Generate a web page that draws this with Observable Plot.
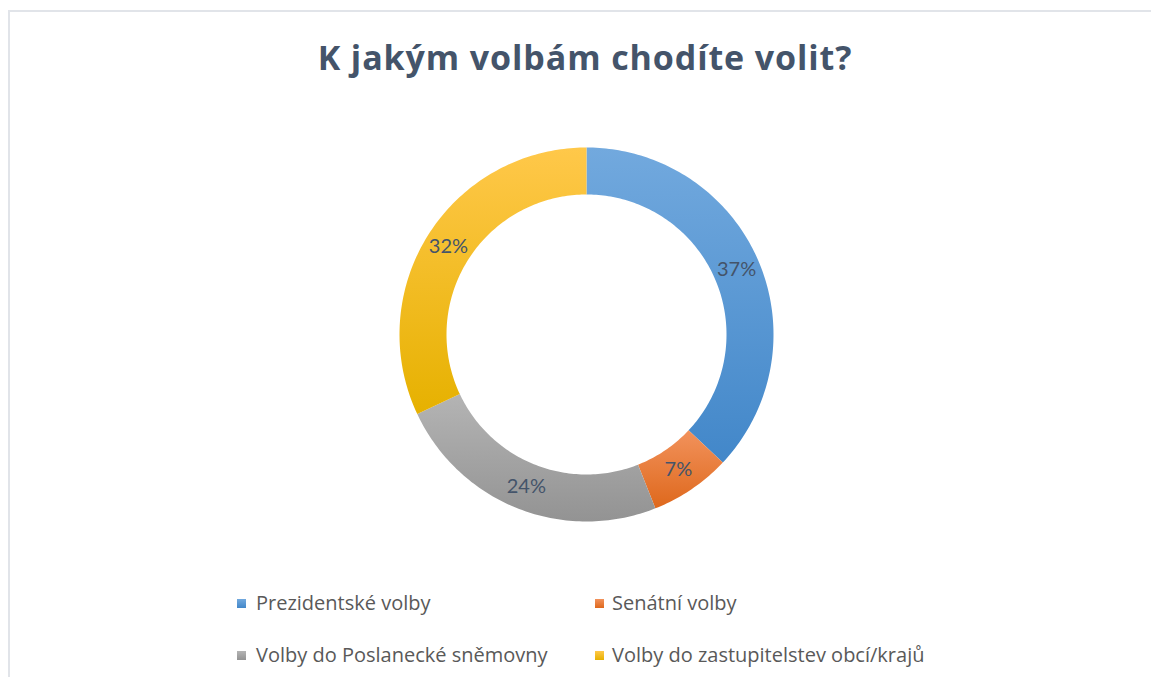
<!DOCTYPE html>
<html>
<head>
<meta charset="utf-8">
<script src="https://cdn.jsdelivr.net/npm/d3@7"></script>
<script src="https://cdn.jsdelivr.net/npm/@observablehq/plot@0.6"></script>
<style>
  html, body { margin: 0; padding: 0; background: #ffffff; width: 1151px; height: 677px; overflow: hidden; }
  #frame { position: absolute; left: 8px; top: 10px; width: 1200px; height: 700px;
           border-top: 2px solid #e1e4e9; border-left: 2px solid #e1e4e9; }
  #title { position: absolute; left: 0; width: 1170px; top: 40px; text-align: center;
           font-family: "Open Sans", Lato, sans-serif; font-weight: 700; font-size: 34px; line-height: 34px;
           letter-spacing: 0.9px; color: #44546a; margin: 0; white-space: nowrap; }
  #chart { position: absolute; left: 386px; top: 134px; }
  .leg { position: absolute; font-family: "Open Sans", Lato, sans-serif; font-size: 20px; line-height: 20px;
         color: #595959; white-space: nowrap; }
  .sw { position: absolute; width: 9px; height: 9px; }
</style>
</head>
<body>
<div id="frame"></div>
<h1 id="title">K jakým volbám chodíte volit?</h1>
<div id="chart"></div>
<div id="legend"></div>
<script>
// ---- data ----
const categories = ["Prezidentské volby", "Senátní volby", "Volby do Poslanecké sněmovny", "Volby do zastupitelstev obcí/krajů"];
const values = [37, 7, 24, 32];
const labels = ["37%", "7%", "24%", "32%"];
const colorsTop = ["#72a9de", "#f2925c", "#b4b4b4", "#ffc84a"];
const colorsBottom = ["#4287c9", "#de681c", "#939393", "#e6b100"];

// ---- geometry (data units = pixels) ----
const R = 187, r = 140;
const total = d3.sum(values);
const gradIds = categories.map((_, i) => `grad${i}`);

const ring = [];
const labelData = [];
let cum = 0;
values.forEach((v, i) => {
  const a0 = cum / total * 2 * Math.PI;
  const a1 = (cum + v) / total * 2 * Math.PI;
  const n = Math.max(8, Math.ceil((a1 - a0) / (Math.PI / 180)));
  for (let k = 0; k <= n; k++) {
    const a = a0 + (a1 - a0) * k / n;
    ring.push({cat: categories[i], x: R * Math.sin(a), y: R * Math.cos(a)});
  }
  for (let k = n; k >= 0; k--) {
    const a = a0 + (a1 - a0) * k / n;
    ring.push({cat: categories[i], x: r * Math.sin(a), y: r * Math.cos(a)});
  }
  const am = (a0 + a1) / 2;
  const rm = (R + r) / 2;
  labelData.push({label: labels[i], x: rm * Math.sin(am), y: rm * Math.cos(am)});
  cum += v;
});

const plot = Plot.plot({
  width: 400,
  height: 400,
  margin: 0,
  x: {domain: [-200, 200], axis: null},
  y: {domain: [-200, 200], axis: null},
  color: {domain: categories, range: gradIds.map(id => `url(#${id})`)},
  style: {background: "transparent", overflow: "visible"},
  marks: [
    Plot.line(ring, {x: "x", y: "y", z: "cat", fill: "cat", stroke: "none", curve: "linear-closed"}),
    Plot.text(labelData, {x: "x", y: "y", text: "label", fill: "#44546a", fontSize: 20,
      fontFamily: "Lato", textAnchor: "middle", lineAnchor: "middle"})
  ]
});

// gradients
const svg = d3.select(plot);
const defs = svg.insert("defs", ":first-child");
gradIds.forEach((id, i) => {
  const g = defs.append("linearGradient").attr("id", id)
    .attr("x1", 0).attr("y1", 0).attr("x2", 0).attr("y2", 1);
  g.append("stop").attr("offset", "0%").attr("stop-color", colorsTop[i]);
  g.append("stop").attr("offset", "100%").attr("stop-color", colorsBottom[i]);
});
document.getElementById("chart").appendChild(plot);

// legend
const legPos = [
  {sx: 237, sy: 599, tx: 256, ty: 593},
  {sx: 595, sy: 599, tx: 612, ty: 593},
  {sx: 237, sy: 651, tx: 256, ty: 645},
  {sx: 595, sy: 651, tx: 612, ty: 645}
];
const legend = document.getElementById("legend");
categories.forEach((c, i) => {
  const sw = document.createElement("div");
  sw.className = "sw";
  sw.style.left = legPos[i].sx + "px";
  sw.style.top = legPos[i].sy + "px";
  sw.style.background = `linear-gradient(${colorsTop[i]}, ${colorsBottom[i]})`;
  legend.appendChild(sw);
  const t = document.createElement("div");
  t.className = "leg";
  t.style.left = legPos[i].tx + "px";
  t.style.top = legPos[i].ty + "px";
  t.textContent = c;
  legend.appendChild(t);
});
</script>
</body>
</html>
